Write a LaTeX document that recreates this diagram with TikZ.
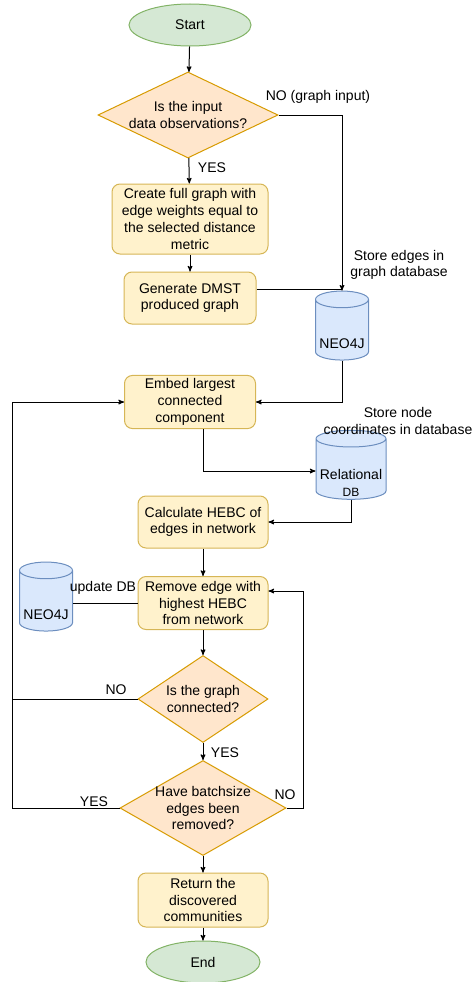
\documentclass[tikz,border=0pt]{standalone}
\usepackage{fontspec}
\setmainfont{Liberation Sans}
\usetikzlibrary{shapes.geometric, arrows}
\definecolor{termfill}{HTML}{D5E8D4}
\definecolor{termline}{HTML}{82B366}
\definecolor{procfill}{HTML}{FFF2CC}
\definecolor{procline}{HTML}{D6B656}
\definecolor{decfill}{HTML}{FFE6CC}
\definecolor{decline}{HTML}{D79B00}
\definecolor{dbfill}{HTML}{DAE8FC}
\definecolor{dbline}{HTML}{6C8EBF}
\tikzset{
    	every node/.append style={font=\fontsize{14}{16.7}\selectfont}}

\begin{document}
\begin{tikzpicture}
  [x=1pt,y=-1pt,>=stealth',line width=1pt,
  	terminal/.style={ellipse,draw=termline,fill=termfill,minimum height=42},
  	process/.style={rounded corners=8,draw=procline,fill=procfill,align=center,
  		minimum width=130,minimum height=52},
  	decision/.style={diamond,draw=decline,fill=decfill,inner sep=0pt},
  	dtext/.style={align=center},
  	dbase/.style={cylinder,shape border rotate=90,aspect=2.5,draw=dbline,fill=dbfill,
  		minimum width=53,minimum height=69},
  	dbtext/.style={align=center,yshift=-12pt}
  ]
  \useasboundingbox (0,0) rectangle (472,982);

  \node [terminal,minimum width=122] (start) at (190,25) {Start};
  \node [decision,minimum width=180,minimum height=86,
  	label={[dtext]center:Is the input\\data observations?}] (d1) at (188,115) {};
  \node [process,minimum width=156,minimum height=70] (b1) at (190,219)
  	{Create full graph with\\edge weights equal to\\the selected distance\\metric};
  \node [process,minimum width=132] (b2) at (190,298) {Generate DMST\\produced graph};
  \node [dbase,label={[dbtext]center:NEO4J}] (n1) at (342,332) {};
  \node [process,minimum width=131] (b3) at (190,402) {Embed largest\\connected\\component};
  \node [dbase,minimum width=70,
  	label={[dbtext]center:Relational\\{\fontsize{12}{14}\selectfont DB}}] (rdb) at (351,471) {};
  \node [process] (b4) at (203,522) {Calculate HEBC of\\edges in network};
  \node [process,minimum height=53] (b5) at (203,603) {Remove edge with\\highest HEBC\\from network};
  \node [dbase,label={[dbtext]center:NEO4J}] (n2) at (46,603) {};
  \node [decision,minimum width=130,minimum height=87,
  	label={[dtext]center:Is the graph\\connected?}] (d2) at (203,699) {};
  \node [decision,minimum width=166,minimum height=95,
  	label={[dtext]center:Have batchsize\\edges been\\removed?}] (d3) at (203,808) {};
  \node [process,minimum height=54] (b6) at (203,900) {Return the\\discovered\\communities};
  \node [terminal,minimum width=114] (stop) at (203,962) {End};

  \node (lnoinput) at (318,97) {NO (graph input)};
  \node (lyes1) at (212,168) {YES};
  \node [align=center] (lstoreedges) at (399,265) {Store edges in\\graph database};
  \node [align=center] (lstorecoords) at (398,421) {Store node\\coordinates in database};
  \node (lupdate) at (103,588) {update DB};
  \node (lno2) at (116,690) {NO};
  \node (lyes2) at (225,753) {YES};
  \node (lyes3) at (94,802) {YES};
  \node (lno3) at (285,795) {NO};

  \coordinate (loopx) at (12,0);
  \coordinate (b2out) at ([yshift=9pt]b2.east);
  \coordinate (b3out) at ([xshift=13pt]b3.south);
  \coordinate (b5in) at ([yshift=12pt]b5.east);

  \foreach \from/\to in {start/d1,d1/b1,b1/b2,b4/b5,b5/d2,d2/d3,d3/b6,b6/stop}
    \draw[->] (\from) -- (\to);

  \draw[->] (d1.east) -| (n1);
  \draw (b2out) -- (b2out -| n1);
  \draw[->] (n1) |- (b3.east);
  \draw[->] (b3out) |- (rdb);
  \draw[->] (rdb) |- (b4.east);
  \draw (n2) -- (b5);
  \draw (d2.west) -- (d2.west -| loopx);
  \draw[->] (d3.west) -- (d3.west -| loopx) |- (b3.west);
  \draw[->] (d3.east) -- ++(17,0) |- (b5in);
\end{tikzpicture}
\end{document}
